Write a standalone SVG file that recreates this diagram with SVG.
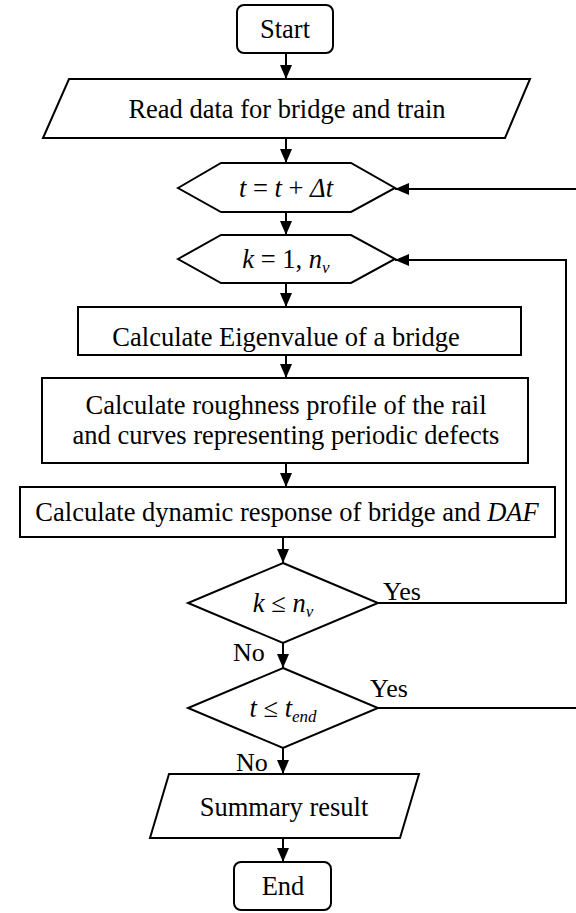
<svg xmlns="http://www.w3.org/2000/svg" width="576" height="913" viewBox="0 0 576 913">
<style>
.s{fill:#fff;stroke:#000;stroke-width:2}
.t{font-family:"Liberation Serif","Times New Roman",serif;font-size:26.5px;fill:#000;text-anchor:middle}
.l{font-family:"Liberation Serif","Times New Roman",serif;font-size:26px;fill:#000}
.i{font-style:italic}
.c{fill:none;stroke:#000;stroke-width:2}
</style>
<defs>
<marker id="ah" viewBox="0 0 14 12" refX="14" refY="6" markerWidth="14" markerHeight="12" orient="auto" markerUnits="userSpaceOnUse"><path d="M0,0 L14,6 L0,12 z" fill="#000"/></marker>
</defs>
<rect width="576" height="913" fill="#fff"/>
<g id="connectors">
<path class="c" d="M286,53 V79" marker-end="url(#ah)"/>
<path class="c" d="M286,138 V163" marker-end="url(#ah)"/>
<path class="c" d="M286,212 V235" marker-end="url(#ah)"/>
<path class="c" d="M286,283 V307" marker-end="url(#ah)"/>
<path class="c" d="M286,355 V378" marker-end="url(#ah)"/>
<path class="c" d="M286,463 V487" marker-end="url(#ah)"/>
<path class="c" d="M283,537 V563" marker-end="url(#ah)"/>
<path class="c" d="M283,643 V668" marker-end="url(#ah)"/>
<path class="c" d="M283,748 V774" marker-end="url(#ah)"/>
<path class="c" d="M283,838 V862" marker-end="url(#ah)"/>
<path class="c" d="M378,603 H566 V260 H395" marker-end="url(#ah)"/>
<path class="c" d="M378,708 H582 V189 H395" marker-end="url(#ah)"/>
<text class="l" x="383" y="600">Yes</text>
<text class="l" x="370" y="697">Yes</text>
<text class="l" x="233" y="661">No</text>
<text class="l" x="236" y="771">No</text>
</g>
<g id="start">
<rect class="s" x="237" y="5" width="96" height="48" rx="7"/>
<text class="t" x="285" y="38">Start</text>
</g>
<g id="read">
<polygon class="s" points="69,79 530,79 505,138 43,138"/>
<text class="t" x="287" y="118">Read data for bridge and train</text>
</g>
<g id="tloop">
<polygon class="s" points="178,188 221,163 351,163 395,188 351,212 221,212"/>
<text class="t" x="286" y="197"><tspan class="i">t</tspan> = <tspan class="i">t</tspan> + <tspan class="i">Δt</tspan></text>
</g>
<g id="kloop">
<polygon class="s" points="178,259 221,235 351,235 395,259 351,283 221,283"/>
<text class="t" x="286" y="268"><tspan class="i">k</tspan> = 1, <tspan class="i">n</tspan><tspan class="i" font-size="17" dy="5">v</tspan></text>
</g>
<g id="eigen">
<rect class="s" x="78" y="307" width="443" height="48"/>
<text class="t" x="286" y="346">Calculate Eigenvalue of a bridge</text>
</g>
<g id="rough">
<rect class="s" x="42" y="378" width="486" height="85"/>
<text class="t" x="286" y="414">Calculate roughness profile of the rail</text>
<text class="t" x="286" y="444">and curves representing periodic defects</text>
</g>
<g id="daf">
<rect class="s" x="20" y="487" width="535" height="50"/>
<text class="t" x="287" y="521">Calculate dynamic response of bridge and <tspan class="i">DAF</tspan></text>
</g>
<g id="kcheck">
<polygon class="s" points="283,563 378,603 283,643 188,603"/>
<text class="t" x="283" y="612"><tspan class="i">k</tspan> ≤ <tspan class="i">n</tspan><tspan class="i" font-size="17" dy="5">v</tspan></text>
</g>
<g id="tcheck">
<polygon class="s" points="283,668 378,708 283,748 188,708"/>
<text class="t" x="283" y="717"><tspan class="i">t</tspan> ≤ <tspan class="i">t</tspan><tspan class="i" font-size="17" dy="5">end</tspan></text>
</g>
<g id="summary">
<polygon class="s" points="169,774 419,774 400,838 150,838"/>
<text class="t" x="284" y="816">Summary result</text>
</g>
<g id="end">
<rect class="s" x="234" y="862" width="97" height="48" rx="7"/>
<text class="t" x="283" y="895">End</text>
</g>
</svg>
